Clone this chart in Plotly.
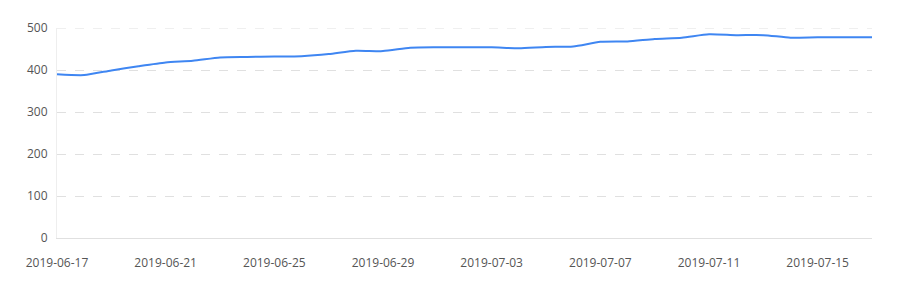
import plotly.graph_objects as go
import pandas as pd

dates = pd.date_range("2019-06-17", "2019-07-17", freq="D").strftime("%Y-%m-%d").tolist()
values = [390, 388, 399, 409, 418, 422, 430, 431, 432, 433, 438, 446, 445, 453, 454,
          454, 454, 452, 455, 456, 467, 468, 474, 477, 485, 483, 483, 477, 478, 478, 478]
y_ticks = [0, 100, 200, 300, 400, 500]

fig = go.Figure()
fig.add_trace(go.Scatter(
    x=dates, y=values, mode="lines",
    line=dict(color="#3f86f2", width=2, shape="spline", smoothing=0.6),
    hoverinfo="x+y",
))

# top gridline (Plotly omits a gridline at the range edge)
fig.add_shape(type="line", xref="paper", x0=0, x1=1, yref="y", y0=y_ticks[-1], y1=y_ticks[-1],
              line=dict(color="#e0e0e0", width=1, dash="dash"), layer="below")

fig.update_layout(
    width=897, height=303,
    margin=dict(l=57, r=25, t=28, b=65),
    paper_bgcolor="white", plot_bgcolor="white",
    showlegend=False,
    font=dict(family="Open Sans, Noto Sans, sans-serif", size=12, color="#555"),
    xaxis=dict(
        type="date",
        range=[dates[0], dates[-1]],
        tick0=dates[0], dtick=4 * 86400000,
        tickformat="%Y-%m-%d",
        showgrid=False, zeroline=False,
        showline=True, linecolor="#e0e0e0", linewidth=1,
        ticks="", ticklabelstandoff=14,
        tickfont=dict(size=12, color="#555"),
    ),
    yaxis=dict(
        range=[0, 500],
        tickvals=y_ticks,
        showgrid=True, gridcolor="#e0e0e0", griddash="dash", gridwidth=1,
        zeroline=False,
        showline=True, linecolor="#eeeeee", linewidth=1,
        ticks="", ticklabelstandoff=6,
        tickfont=dict(size=12, color="#555"),
    ),
)

fig.write_html("out.html")
